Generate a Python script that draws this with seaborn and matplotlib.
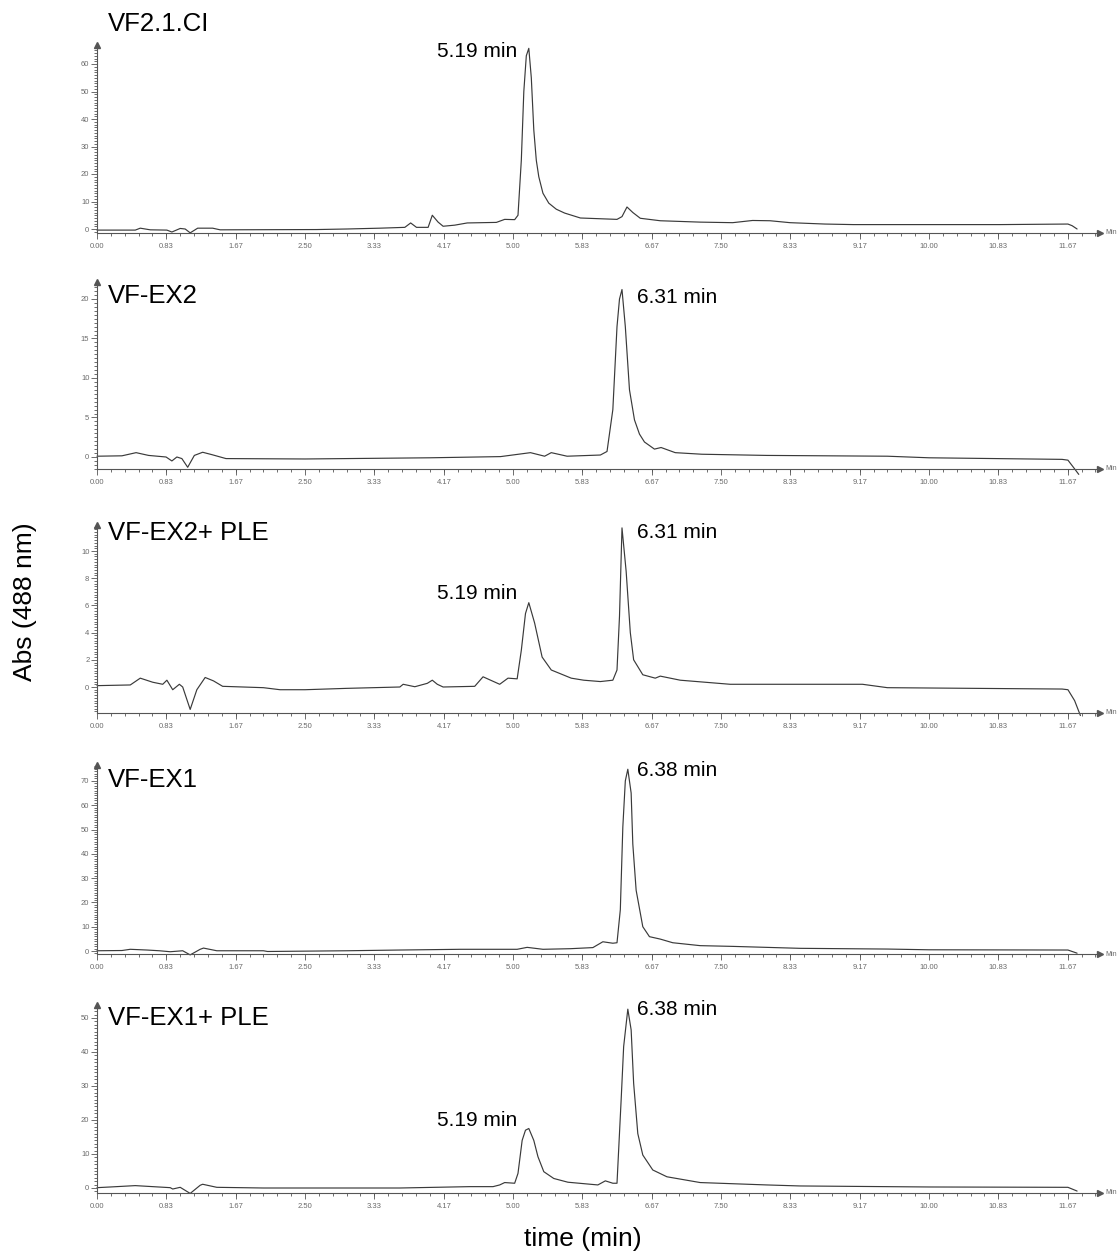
import numpy as np
import pandas as pd
import matplotlib
matplotlib.use("Agg")
import matplotlib.pyplot as plt
from matplotlib.ticker import FixedLocator
import seaborn as sns

# ---- chromatogram traces: retention time (min) and absorbance at 488 nm ----
vf21_time = [0.00, 0.46, 0.52, 0.64, 0.84, 0.90, 1.00, 1.06, 1.12, 1.21, 1.39, 1.48,
             2.64, 3.00, 3.40, 3.70, 3.77, 3.84, 3.98, 4.03, 4.10, 4.16, 4.30, 4.45,
             4.80, 4.90, 5.02, 5.06, 5.10, 5.13, 5.16, 5.19, 5.22, 5.25, 5.28, 5.31,
             5.36, 5.43, 5.52, 5.62, 5.81, 6.25, 6.31, 6.37, 6.44, 6.53, 6.77, 7.25,
             7.64, 7.88, 8.09, 8.33, 8.75, 9.09, 10.85, 11.67, 11.72, 11.78]
vf21_abs = [-0.4, -0.4, 0.3, -0.3, -0.4, -1.1, 0.2, 0.0, -1.4, 0.3, 0.3, -0.3,
            -0.2, 0.0, 0.3, 0.6, 2.2, 0.6, 0.6, 5.0, 2.5, 1.0, 1.4, 2.2,
            2.4, 3.5, 3.4, 5.0, 25.0, 50.0, 63.0, 65.7, 55.0, 36.0, 25.0, 19.0,
            13.0, 9.4, 7.2, 5.8, 4.0, 3.5, 4.5, 8.0, 6.0, 3.9, 3.0, 2.5,
            2.3, 3.1, 3.0, 2.3, 1.8, 1.6, 1.6, 1.8, 1.2, 0.0]

ex2_time = [0.00, 0.30, 0.47, 0.62, 0.83, 0.90, 0.96, 1.02, 1.09, 1.17, 1.27, 1.38,
            1.55, 2.50, 4.00, 4.85, 5.21, 5.38, 5.46, 5.65, 6.05, 6.13, 6.20, 6.25,
            6.28, 6.31, 6.35, 6.40, 6.46, 6.52, 6.58, 6.70, 6.78, 6.95, 7.27, 8.05,
            9.50, 10.00, 11.60, 11.67, 11.75, 11.80]
ex2_abs = [0.1, 0.15, 0.55, 0.2, 0.0, -0.5, 0.0, -0.2, -1.3, 0.2, 0.6, 0.3,
           -0.2, -0.25, -0.1, 0.05, 0.55, 0.1, 0.55, 0.1, 0.25, 0.7, 6.0, 16.5,
           20.0, 21.2, 16.5, 8.5, 4.7, 2.9, 1.9, 1.0, 1.2, 0.55, 0.35, 0.2,
           0.1, -0.1, -0.3, -0.4, -1.5, -2.2]

ex2ple_time = [0.00, 0.40, 0.52, 0.67, 0.79, 0.84, 0.91, 0.99, 1.03, 1.12, 1.20, 1.30,
               1.40, 1.51, 2.00, 2.20, 2.50, 3.00, 3.64, 3.68, 3.82, 3.97, 4.03, 4.09,
               4.16, 4.54, 4.64, 4.84, 4.94, 5.05, 5.10, 5.15, 5.19, 5.26, 5.35, 5.46,
               5.70, 5.85, 6.05, 6.20, 6.25, 6.28, 6.31, 6.36, 6.41, 6.45, 6.56, 6.71,
               6.77, 7.01, 7.61, 9.20, 9.50, 11.60, 11.67, 11.75, 11.82]
ex2ple_abs = [0.1, 0.15, 0.65, 0.35, 0.2, 0.5, -0.2, 0.2, 0.0, -1.65, -0.2, 0.7,
              0.45, 0.05, -0.05, -0.2, -0.2, -0.1, 0.0, 0.2, 0.02, 0.27, 0.5, 0.2,
              0.0, 0.05, 0.75, 0.2, 0.65, 0.6, 2.7, 5.4, 6.2, 4.7, 2.2, 1.25,
              0.65, 0.5, 0.4, 0.5, 1.25, 5.2, 11.7, 8.5, 4.0, 2.0, 0.9, 0.65,
              0.8, 0.5, 0.2, 0.2, -0.05, -0.15, -0.2, -1.0, -2.1]

ex1_time = [0.00, 0.30, 0.40, 0.60, 0.75, 0.88, 1.03, 1.12, 1.24, 1.28, 1.44, 2.00,
            2.05, 3.00, 3.64, 4.37, 5.05, 5.17, 5.36, 5.69, 5.96, 6.08, 6.20, 6.25,
            6.29, 6.32, 6.35, 6.38, 6.42, 6.44, 6.48, 6.56, 6.64, 6.77, 6.92, 7.25,
            7.64, 8.45, 9.50, 10.00, 11.67, 11.78]
ex1_abs = [0.1, 0.2, 0.7, 0.4, 0.1, -0.3, 0.1, -1.6, 0.7, 1.2, 0.1, 0.1,
           -0.2, 0.1, 0.4, 0.7, 0.7, 1.5, 0.7, 0.95, 1.4, 3.8, 3.2, 3.4,
           17.0, 51.0, 70.0, 74.8, 65.0, 44.0, 25.0, 10.0, 5.9, 4.9, 3.4, 2.2,
           1.9, 1.1, 0.8, 0.5, 0.4, -0.9]

ex1ple_time = [0.00, 0.16, 0.46, 0.67, 0.88, 0.91, 1.00, 1.12, 1.24, 1.27, 1.44, 2.00,
               3.64, 4.48, 4.76, 4.84, 4.90, 5.02, 5.06, 5.11, 5.15, 5.19, 5.25, 5.30,
               5.37, 5.49, 5.66, 6.02, 6.11, 6.20, 6.25, 6.30, 6.33, 6.38, 6.42, 6.45,
               6.50, 6.56, 6.68, 6.85, 7.25, 8.05, 8.45, 10.00, 11.67, 11.78]
ex1ple_abs = [0.1, 0.3, 0.7, 0.4, 0.1, -0.3, 0.2, -1.6, 0.8, 1.1, 0.2, 0.0,
              0.0, 0.4, 0.4, 0.9, 1.6, 1.4, 4.3, 14.0, 17.0, 17.5, 14.0, 9.2,
              4.8, 2.8, 1.7, 0.9, 2.1, 1.4, 1.4, 26.0, 41.6, 52.6, 46.5, 30.8,
              16.0, 9.7, 5.3, 3.3, 1.6, 0.9, 0.6, 0.3, 0.2, -0.9]

sample_names = ["VF2.1.CI", "VF-EX2", "VF-EX2+ PLE", "VF-EX1", "VF-EX1+ PLE"]
peak_labels = [[5.19], [6.31], [5.19, 6.31], [6.38], [5.19, 6.38]]
y_major_steps = [10, 5, 2, 10, 10]
y_minor_steps = [1, 0.5, 0.2, 1, 1]
y_top_ticks = [60, 20, 10, 70, 50]
x_tick_values = [0.00, 0.83, 1.67, 2.50, 3.33, 4.17, 5.00, 5.83, 6.67, 7.50,
                 8.33, 9.17, 10.00, 10.83, 11.67]

traces = [(vf21_time, vf21_abs), (ex2_time, ex2_abs), (ex2ple_time, ex2ple_abs),
          (ex1_time, ex1_abs), (ex1ple_time, ex1ple_abs)]

# ---- layout (pixel geometry of each panel) ----
W, H = 1119, 1258
X_LEFT, X_RIGHT = 97, 1100
PX_PER_MIN = 83.2
x_max = (X_RIGHT - X_LEFT) / PX_PER_MIN
# top of y-axis arrow, x-axis line, pixel row of y=0, pixels per unit
panel_geom = [
    (45, 233, 229, 2.75),
    (282, 469, 457, 7.9),
    (525, 713, 687, 13.6),
    (765, 954, 951, 2.43),
    (1005, 1193, 1188, 3.4),
]
title_baselines = [31, 303, 540, 787, 1025]
# offsets (px) of each peak label relative to the peak apex
label_offsets = [
    [(-12, -9)],
    [(15, -13)],
    [(-12, 4), (15, -10)],
    [(9, -7)],
    [(-12, 2), (9, -6)],
]

sns.set_theme(style="white")
plt.rcParams["font.family"] = ["Liberation Sans", "DejaVu Sans"]

TRACE = "#3a3a3a"
AXIS = "#555555"
TICKTXT = "#6a6a6a"

fig = plt.figure(figsize=(W / 100, H / 100), dpi=100)

for i, name in enumerate(sample_names):
    top_px, axis_px, zero_px, ppu = panel_geom[i]
    y_lo = (zero_px - axis_px) / ppu
    y_hi = (zero_px - top_px) / ppu
    ax = fig.add_axes([X_LEFT / W, 1 - axis_px / H,
                       (X_RIGHT - X_LEFT) / W, (axis_px - top_px) / H])
    t, a = traces[i]
    df = pd.DataFrame({"time": t, "abs": a})
    sns.lineplot(data=df, x="time", y="abs", ax=ax, estimator=None, sort=False,
                 color=TRACE, linewidth=0.85)
    for ln in ax.get_lines():
        ln.set_clip_on(False)
    ax.set_xlim(0, x_max)
    ax.set_ylim(y_lo, y_hi)
    ax.set_xlabel("")
    ax.set_ylabel("")
    sns.despine(ax=ax)
    for s in ("left", "bottom"):
        ax.spines[s].set_color(AXIS)
        ax.spines[s].set_linewidth(0.8)

    # axis arrows
    ax.plot([1], [0], marker=">", markersize=4, color=AXIS, transform=ax.transAxes,
            clip_on=False)
    ax.plot([0], [1], marker="^", markersize=4, color=AXIS, transform=ax.transAxes,
            clip_on=False)

    # x ticks
    ax.xaxis.set_major_locator(FixedLocator(x_tick_values))
    ax.set_xticklabels([f"{v:.2f}" for v in x_tick_values])
    ax.xaxis.set_minor_locator(FixedLocator(np.arange(0, 12.01, 1 / 6)))
    # y ticks
    step = y_major_steps[i]
    ax.yaxis.set_major_locator(FixedLocator(np.arange(0, y_top_ticks[i] + 1e-6, step)))
    ax.set_yticklabels([f"{v:g}" for v in np.arange(0, y_top_ticks[i] + 1e-6, step)])
    mstep = y_minor_steps[i]
    ax.yaxis.set_minor_locator(FixedLocator(
        np.arange(np.ceil(y_lo / mstep) * mstep, y_hi - 0.5 * mstep, mstep)))
    ax.tick_params(axis="both", which="both", direction="out", colors=AXIS,
                   labelcolor=TICKTXT, labelsize=5.5, width=0.6,
                   bottom=True, left=True, top=False, right=False)
    ax.tick_params(axis="x", which="major", length=4, pad=3)
    ax.tick_params(axis="x", which="minor", length=2.5)
    ax.tick_params(axis="y", which="major", length=4, pad=1.5)
    ax.tick_params(axis="y", which="minor", length=2)
    ax.patch.set_alpha(0)

    # "Min" unit at the end of the time axis
    fig.text((X_RIGHT + 5) / W, 1 - axis_px / H, "Min", fontsize=5, color=TICKTXT,
             va="center", ha="left")

    # sample name
    fig.text(108 / W, 1 - title_baselines[i] / H, name, fontsize=18.5,
             color="black", va="baseline", ha="left")

    # retention-time labels at the peak apexes
    for pk, (dx, dy) in zip(peak_labels[i], label_offsets[i]):
        idx = int(np.argmin(np.abs(np.array(t) - pk)))
        ax.annotate(f"{pk:.2f} min", xy=(t[idx], a[idx]),
                    xytext=(dx * 0.72, dy * 0.72), textcoords="offset points",
                    ha="right" if dx < 0 else "left", va="baseline",
                    fontsize=15, color="black", annotation_clip=False)

fig.text(25 / W, 1 - 602 / H, "Abs (488 nm)", rotation=90, fontsize=19,
         ha="center", va="center", color="black")
fig.text(583 / W, 1 - 1239 / H, "time (min)", fontsize=19,
         ha="center", va="center", color="black")

fig.savefig("out.png", dpi=100, facecolor="white")
